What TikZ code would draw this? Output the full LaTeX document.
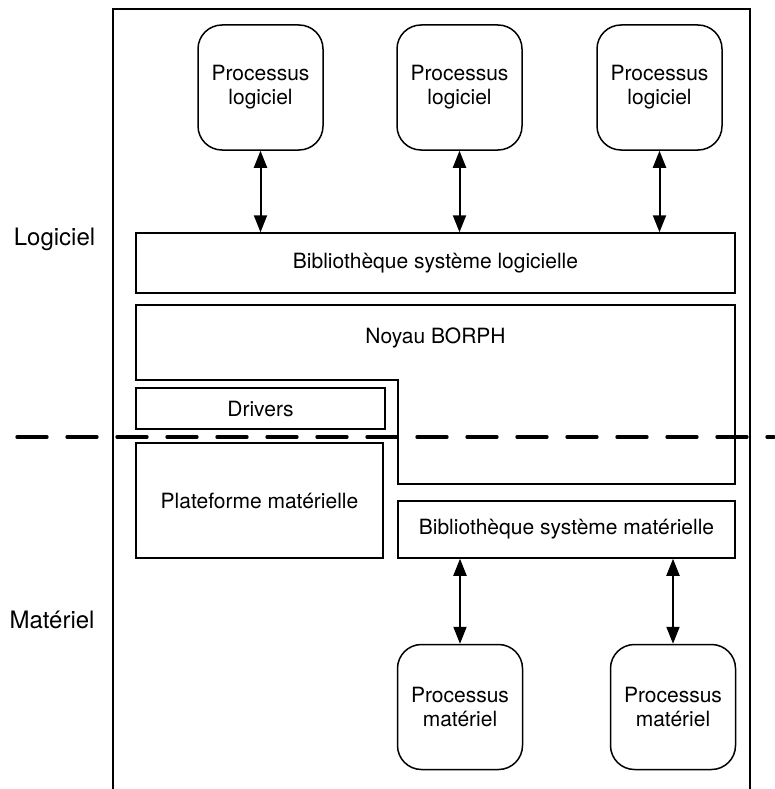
\documentclass[tikz,border=0pt]{standalone}
\usepackage{fontspec}
\setmainfont{TeX Gyre Heros}
\usetikzlibrary{positioning,arrows.meta}

\begin{document}
\begin{tikzpicture}[
  x=1pt, y=-1pt,
  font=\fontsize{21}{24}\selectfont,
  >={Triangle[length=17pt,width=13pt]},
  blk/.style={draw, line width=1.5pt, inner sep=0pt, align=center},
  proc/.style={blk, rounded corners=24pt,
               minimum width=125pt, minimum height=125pt},
  link/.style={<->, line width=2pt},
  side/.style={anchor=base, font=\fontsize{24}{28}\selectfont},
]
  \useasboundingbox (0,0) rectangle (774,789);
  % ── Outer frame (open at the bottom) ──
  \draw[line width=1.5pt] (113,795) -- (113,9) -- (750,9) -- (750,795);
  % ── Software processes (top row) ──
  \node[proc] (sw1) at (260.5,87.5) {Processus\\logiciel};
  \node[proc] (sw2) at (459.5,87.5) {Processus\\logiciel};
  \node[proc] (sw3) at (659.5,87.5) {Processus\\logiciel};
  % ── Software system library ──
  \node[blk, minimum width=599pt, minimum height=60pt] (bsl) at (435.5,263)
    {Bibliothèque système logicielle};
  % ── Kernel (stepped outline) ──
  \draw[line width=1.5pt] (136,305) -- (735,305) -- (735,484) -- (398,484)
    -- (398,380) -- (136,380) -- cycle;
  \node (noyau) at (435.5,338) {Noyau BORPH};
  % ── Drivers and hardware platform ──
  \node[blk, minimum width=249pt, minimum height=41pt] (drv) at (260.5,408.5)
    {Drivers};
  \node[blk, minimum width=247pt, minimum height=115pt] (plat) at (259.5,500.5)
    {Plateforme matérielle};
  % ── Hardware system library ──
  \node[blk, minimum width=337pt, minimum height=57pt] (bsm) at (566.5,529.5)
    {Bibliothèque système matérielle};
  % ── Hardware processes (bottom row) ──
  \node[proc] (hw1) at (460,707) {Processus\\matériel};
  \node[proc] (hw2) at (673,707) {Processus\\matériel};
  % ── Two-way links ──
  \foreach \p in {sw1,sw2,sw3}
    \draw[link] (\p.south) -- (\p.south |- bsl.north);
  \foreach \p in {hw1,hw2}
    \draw[link] (\p.north) -- (\p.north |- bsm.south);
  % ── Software / hardware boundary ──
  \draw[line width=3.3pt, line cap=round, dash pattern=on 30pt off 20pt]
    (17,437) -- (774,437);
  % ── Side labels ──
  \node[side] (lsw) at (54.5,245) {Logiciel};
  \node[side] (lhw) at (52,628) {Matériel};
\end{tikzpicture}
\end{document}
